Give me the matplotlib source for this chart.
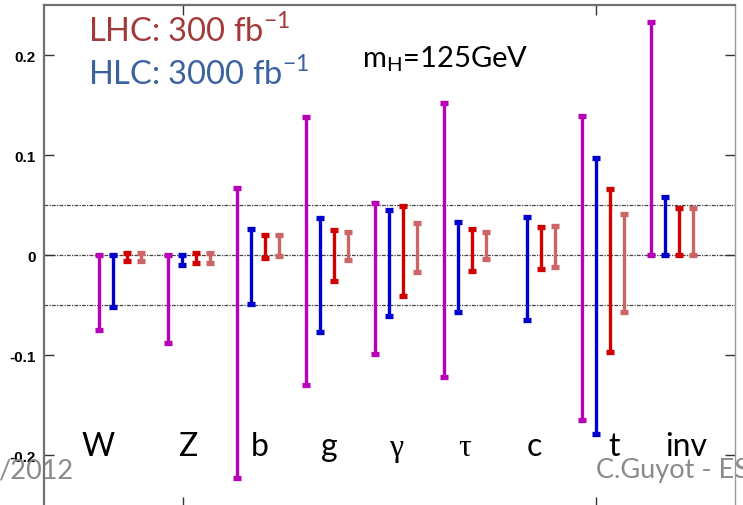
import matplotlib
matplotlib.use("Agg")
import matplotlib.pyplot as plt
import numpy as np

# ------ data ------

categories = ["W", "Z", "b", "g", "γ", "τ", "c", "t", "inv"]

# magenta: LHC 300 fb-1
lhc300_lo = [-0.075, -0.088, -0.223, -0.130, -0.099, -0.122, np.nan, -0.165, 0.0]
lhc300_hi = [0.0, 0.0, 0.067, 0.138, 0.052, 0.152, np.nan, 0.139, 0.233]

# blue: 3000 fb-1
hl3000_lo = [-0.052, -0.010, -0.049, -0.077, -0.061, -0.057, -0.065, -0.179, 0.0]
hl3000_hi = [0.0, 0.0, 0.026, 0.037, 0.045, 0.033, 0.038, 0.097, 0.058]

# red
red_lo = [-0.006, -0.008, -0.003, -0.026, -0.041, -0.016, -0.014, -0.097, 0.0]
red_hi = [0.002, 0.002, 0.020, 0.025, 0.049, 0.026, 0.028, 0.066, 0.047]

# light red
pink_lo = [-0.006, -0.008, -0.001, -0.005, -0.017, -0.004, -0.012, -0.057, 0.0]
pink_hi = [0.002, 0.002, 0.020, 0.023, 0.032, 0.023, 0.029, 0.041, 0.047]

# ------ plot ------

W, H = 743, 506
fig = plt.figure(figsize=(W / 100, H / 100), dpi=100)
ax = fig.add_axes([44 / W, -0.004, 691 / W, 0.992])

plt.rcParams["mathtext.fontset"] = "custom"
plt.rcParams["mathtext.rm"] = "Lato"

series = [
    (lhc300_lo, lhc300_hi, "#b800b8", 0.0),
    (hl3000_lo, hl3000_hi, "#0000cc", 0.203),
    (red_lo, red_hi, "#d00000", 0.406),
    (pink_lo, pink_hi, "#cc6666", 0.609),
]

idx = np.arange(len(categories))
for lo, hi, col, off in series:
    lo = np.array(lo)
    hi = np.array(hi)
    mid = (lo + hi) / 2
    half = (hi - lo) / 2
    ax.errorbar(idx + off, mid, yerr=half, fmt="none", ecolor=col,
                elinewidth=2.4, capsize=3.2, capthick=3.8, zorder=3)

for y in [0.05, 0.0, -0.05]:
    ax.axhline(y, color="#444444", lw=0.9, ls=(0, (3, 1, 1, 1)), zorder=1)

ax.set_xlim(-0.797, 9.217)
ax.set_ylim(-0.252, 0.25)
ax.set_xticks([1.217, 7.203])
ax.set_xticklabels([])
ax.set_yticks([0.2, 0.1, 0, -0.1, -0.2])
ax.set_yticklabels(["0.2", "0.1", "0", "-0.1", "-0.2"],
                   fontdict=dict(family="Liberation Sans", weight="bold", size=11))
ax.tick_params(direction="in", length=7, width=1, top=True, right=True,
               color="#333333", pad=6)
ax.tick_params(axis="y", labelright=False)

for s in ["left", "top"]:
    ax.spines[s].set_color("#707070")
    ax.spines[s].set_linewidth(1.6)
ax.spines["right"].set_color("#999999")
ax.spines["right"].set_linewidth(1.0)
ax.spines["bottom"].set_color("#707070")


def px(x, y):
    return x / W, 1 - y / H


# category labels
label_x = [98, 188, 260, 329, 396, 465, 534, 614, 686]
for name, lx in zip(categories, label_x):
    fam = ["Liberation Serif"] if name in ("γ", "τ") else ["Lato", "DejaVu Sans"]
    fig.text(*px(lx, 456), name, family=fam, size=23, ha="center",
             va="baseline", color="black")

fig.text(*px(88, 42), r"LHC: 300 fb$^{\mathregular{-1}}$", family="Lato",
         size=23.5, color="#a33a3a", va="baseline")
fig.text(*px(88, 85), r"HLC: 3000 fb$^{\mathregular{-1}}$", family="Lato",
         size=23.5, color="#3a62a0", va="baseline")
fig.text(*px(362, 67), r"m$_{\mathregular{H}}$=125GeV", family="Lato",
         size=21, color="black", va="baseline")

fig.text(*px(-2, 479), "/2012", family="Lato", size=19.5, color="#8a8a8a",
         va="baseline")
fig.text(*px(596, 478), "C.Guyot - ESG", family="Lato", size=19.5,
         color="#8a8a8a", va="baseline")

fig.savefig("out.png", dpi=100)
